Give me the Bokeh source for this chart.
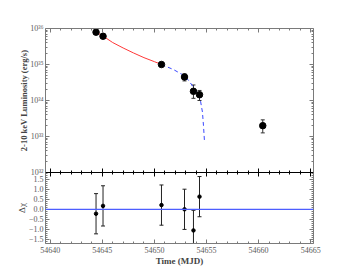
from bokeh.plotting import figure
from bokeh.models import (Range1d, LinearAxis, LogAxis, FixedTicker,
                          Whisker, TeeHead, ColumnDataSource, Span)
from bokeh.layouts import column
from bokeh.embed import file_html
from bokeh.resources import INLINE

# ---------------- data ----------------
mjd = [54644.40, 54645.07, 54650.68, 54652.89, 54653.75, 54654.33, 54660.40]
lum = [7.9e35, 6.1e35, 1.0e35, 4.5e34, 1.8e34, 1.45e34, 2.0e33]

err_mjd = [54652.89, 54653.75, 54654.33, 54660.40]
err_lo = [3.5e34, 1.15e34, 1.0e34, 1.26e33]
err_hi = [5.5e34, 2.7e34, 1.9e34, 2.9e33]

red_mjd = [54644.40, 54645.07, 54646.0, 54647.0, 54648.0, 54649.0, 54650.0, 54650.68]
red_lum = [7.94e35, 6.17e35, 4.07e35, 2.88e35, 2.09e35, 1.55e35, 1.20e35, 1.0e35]

blue_mjd = [54650.68, 54651.83, 54652.86, 54653.30, 54653.75, 54654.10, 54654.39,
            54654.61, 54654.71, 54654.80]
blue_lum = [1.0e35, 7.24e34, 4.9e34, 3.55e34, 2.34e34, 1.66e34, 1.12e34,
            4.8e33, 2.04e33, 7.8e32]

res_mjd = [54644.40, 54645.07, 54650.68, 54652.89, 54653.75, 54654.33]
res = [-0.22, 0.17, 0.21, 0.0, -1.05, 0.63]
res_err = [1.0, 1.0, 1.0, 1.0, 1.0, 1.0]

x_major = [54640, 54645, 54650, 54655, 54660, 54665]
lum_decades = [32, 33, 34, 35, 36]
res_ticks = [-1.5, -1.0, -0.5, 0.0, 0.5, 1.0, 1.5]

XMIN, XMAX = 54639.55, 54665.27
LMIN, LMAX = 1e32, 1e36
RMIN, RMAX = -1.70, 1.83

FONT = "Liberation Serif"
FRAME = "#7a7a7a"
TXT = "#5a5a5a"

SUP = str.maketrans("0123456789", "⁰¹²³⁴⁵⁶⁷⁸⁹")


def style_axis(ax, color, labels=True, size="8px", standoff=2):
    ax.axis_line_color = color
    ax.major_tick_line_color = color
    ax.minor_tick_line_color = color
    ax.major_tick_in = 4
    ax.major_tick_out = 0
    ax.minor_tick_in = 2
    ax.minor_tick_out = 0
    ax.major_label_text_font = FONT
    ax.major_label_text_font_size = size
    if labels:
        ax.major_label_text_color = TXT
        ax.major_label_standoff = standoff
    else:
        ax.major_label_text_color = None
        ax.major_label_standoff = 0


xticker = FixedTicker(ticks=x_major,
                      minor_ticks=list(range(x_major[0] - 1, x_major[-1] + 2)))
log_ticker = FixedTicker(ticks=[10.0 ** e for e in lum_decades],
                         minor_ticks=[m * 10.0 ** e for e in lum_decades[:-1] for m in range(2, 10)])
res_ticker = FixedTicker(ticks=res_ticks,
                         minor_ticks=[round(-1.7 + 0.1 * i, 1) for i in range(36)])

# ---------------- top panel ----------------
p1 = figure(width=342, height=178, x_range=Range1d(XMIN, XMAX), y_range=Range1d(LMIN, LMAX),
            y_axis_type="log", output_backend="svg", toolbar_location=None,
            min_border_left=45, min_border_right=29, min_border_top=28, min_border_bottom=6)
p1.grid.visible = False
p1.outline_line_color = None
p1.border_fill_alpha = 0

ly = p1.yaxis[0]
ly.ticker = log_ticker
style_axis(ly, FRAME, True, "8px", 2)
ly.major_label_overrides = {10.0 ** e: ("10" + str(e).translate(SUP)) for e in lum_decades}
ly.axis_label = "2-10 keV Luminosity (erg/s)"
ly.axis_label_text_font = FONT
ly.axis_label_text_font_style = "bold"
ly.axis_label_text_font_size = "8.5px"
ly.axis_label_standoff = -2

bx = p1.xaxis[0]
bx.ticker = xticker
style_axis(bx, "black", False)

ax_top = LinearAxis(ticker=xticker)
style_axis(ax_top, FRAME, False)
p1.add_layout(ax_top, "above")

ax_r = LogAxis(ticker=log_ticker)
style_axis(ax_r, FRAME, False)
p1.add_layout(ax_r, "right")

p1.line(red_mjd, red_lum, line_color="#ff3838", line_width=1)
p1.line(blue_mjd, blue_lum, line_color="#3a48ff", line_width=1, line_dash="4 3")
esrc = ColumnDataSource(dict(x=err_mjd, lo=err_lo, hi=err_hi))
p1.add_layout(Whisker(base="x", lower="lo", upper="hi", source=esrc, dimension="height",
                      line_color="#333333", line_width=1,
                      upper_head=TeeHead(size=4, line_color="#333333"),
                      lower_head=TeeHead(size=4, line_color="#333333")))
p1.scatter(mjd, lum, size=6.5, color="black")

# ---------------- residual panel ----------------
p2 = figure(width=342, height=101, x_range=p1.x_range, y_range=Range1d(RMIN, RMAX),
            output_backend="svg", toolbar_location=None,
            min_border_left=45, min_border_right=29, min_border_top=0, min_border_bottom=30,
            margin=(-6, 0, 0, 0))
p2.grid.visible = False
p2.outline_line_color = None
p2.border_fill_alpha = 0
p2.background_fill_alpha = 0

ry = p2.yaxis[0]
ry.ticker = res_ticker
style_axis(ry, FRAME, True, "8px", 2)
ry.major_label_overrides = {t: ("%.1f" % t).replace("-", "−") for t in res_ticks}
ry.axis_label = "Δχ"
ry.axis_label_text_font = FONT
ry.axis_label_text_font_style = "normal"
ry.axis_label_text_font_size = "9px"
ry.axis_label_standoff = -1

rx = p2.xaxis[0]
rx.ticker = xticker
style_axis(rx, FRAME, True, "8px", 3)
rx.axis_label = "Time (MJD)"
rx.axis_label_text_font = FONT
rx.axis_label_text_font_style = "bold"
rx.axis_label_text_font_size = "9px"
rx.axis_label_standoff = 0

ax_top2 = LinearAxis(ticker=xticker)
style_axis(ax_top2, "black", False)
p2.add_layout(ax_top2, "above")

ax_r2 = LinearAxis(ticker=res_ticker)
style_axis(ax_r2, FRAME, False)
p2.add_layout(ax_r2, "right")

p2.add_layout(Span(location=0, dimension="width", line_color="#4d5eff", line_width=1.2))
rsrc = ColumnDataSource(dict(x=res_mjd, y=res,
                             lo=[v - e for v, e in zip(res, res_err)],
                             hi=[v + e for v, e in zip(res, res_err)]))
p2.add_layout(Whisker(base="x", lower="lo", upper="hi", source=rsrc, dimension="height",
                      line_color="#222222", line_width=1,
                      upper_head=TeeHead(size=4, line_color="#222222"),
                      lower_head=TeeHead(size=4, line_color="#222222")))
p2.scatter("x", "y", source=rsrc, size=3.5, color="black")

layout = column(p1, p2)
open("out.html", "w").write(file_html(layout, INLINE))
